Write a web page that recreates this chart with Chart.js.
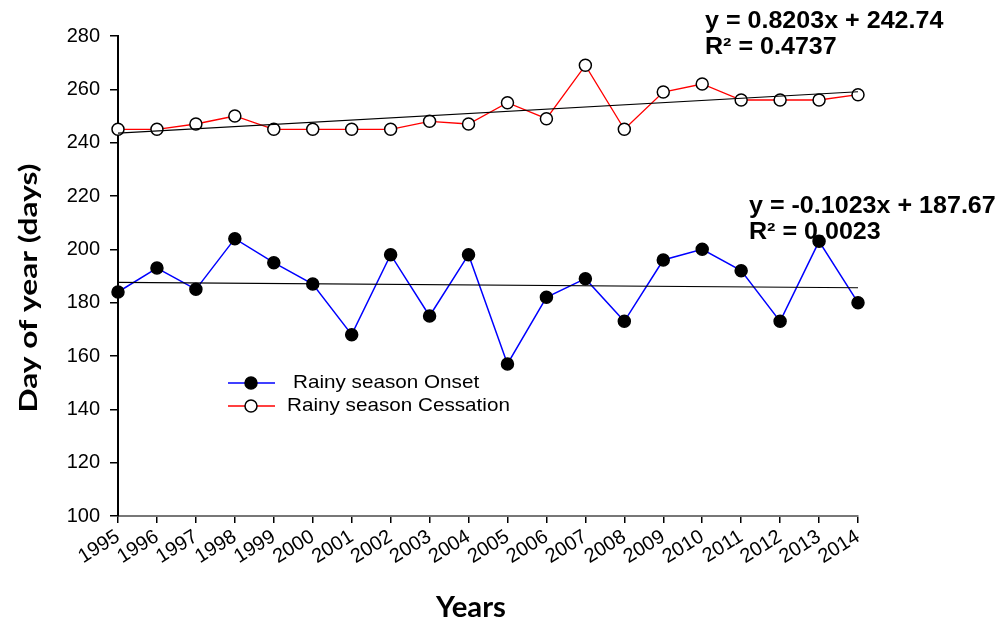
<!DOCTYPE html>
<html lang="en">
<head>
    <meta charset="UTF-8">
    <title>Rainy season onset and cessation</title>
    <script src="https://cdn.jsdelivr.net/npm/chart.js"></script>
    <style>
        html, body { margin: 0; padding: 0; background: #fff; }
        .wrap { width: 1002px; height: 625px; position: relative; }
    </style>
</head>
<body>
    <div class="wrap">
        <canvas id="rainChart" width="1002" height="625"></canvas>
    </div>

    <script>
        const years = ['1995', '1996', '1997', '1998', '1999', '2000', '2001', '2002', '2003', '2004',
                       '2005', '2006', '2007', '2008', '2009', '2010', '2011', '2012', '2013', '2014'];
        const onset = [184, 193, 185, 204, 195, 187, 168, 198, 175, 198,
                       157, 182, 189, 173, 196, 200, 192, 173, 203, 180];
        const cessation = [245, 245, 247, 250, 245, 245, 245, 245, 248, 247,
                           255, 249, 269, 245, 259, 262, 256, 256, 256, 258];
        // trend line end values (first and last year)
        const onsetTrend = [187.6, 185.6];
        const cessationTrend = [243.6, 259.1];
        const yTicks = [100, 120, 140, 160, 180, 200, 220, 240, 260, 280];

        const labelFont = '"Liberation Sans", Arial, sans-serif';
        const titleFont = 'Lato, "Open Sans", sans-serif';

        const trendData = vals => [
            { x: years[0], y: vals[0] },
            { x: years[years.length - 1], y: vals[1] }
        ];

        // text in the original figure is a bit wider than the font, so stretch it
        function stretchText(ctx, text, x, y, sx) {
            ctx.save();
            ctx.translate(x, y);
            ctx.scale(sx, 1);
            ctx.fillText(text, 0, 0);
            ctx.restore();
        }

        function fitText(ctx, text, x, y, width) {
            const sx = width / ctx.measureText(text).width;
            stretchText(ctx, text, x, y, sx);
        }

        // axis titles, legend and equations placed like the original figure
        const extras = {
            id: 'extras',
            afterDraw(chart) {
                const ctx = chart.ctx;
                ctx.save();
                ctx.fillStyle = '#000';
                ctx.textAlign = 'center';
                ctx.textBaseline = 'alphabetic';

                ctx.font = 'bold 28px ' + titleFont;
                fitText(ctx, 'Years', 471, 617, 70);

                ctx.save();
                ctx.translate(37, 288);
                ctx.rotate(-Math.PI / 2);
                ctx.font = 'bold 25px ' + titleFont;
                fitText(ctx, 'Day of year (days)', 0, 0, 249);
                ctx.restore();

                ctx.font = 'bold 23px ' + labelFont;
                ctx.textAlign = 'left';
                stretchText(ctx, 'y = 0.8203x + 242.74', 705, 28, 1.09);
                stretchText(ctx, 'R\u00b2 = 0.4737', 705, 54, 1.09);
                stretchText(ctx, 'y = -0.1023x + 187.67', 749, 213, 1.09);
                stretchText(ctx, 'R\u00b2 = 0.0023', 749, 239, 1.09);

                // legend
                const items = [
                    { ds: chart.data.datasets[0], y: 383, tx: 293 },
                    { ds: chart.data.datasets[1], y: 406, tx: 287 }
                ];
                ctx.font = '19px ' + labelFont;
                ctx.textBaseline = 'middle';
                items.forEach(it => {
                    ctx.strokeStyle = it.ds.borderColor;
                    ctx.lineWidth = 1.3;
                    ctx.beginPath();
                    ctx.moveTo(228, it.y);
                    ctx.lineTo(275, it.y);
                    ctx.stroke();
                    ctx.beginPath();
                    ctx.arc(251, it.y, 6, 0, Math.PI * 2);
                    ctx.fillStyle = it.ds.pointBackgroundColor;
                    ctx.fill();
                    ctx.strokeStyle = '#000';
                    ctx.lineWidth = 1.5;
                    ctx.stroke();
                    ctx.fillStyle = '#000';
                    stretchText(ctx, it.ds.label, it.tx, it.y, 1.088);
                });
                ctx.restore();
            }
        };

        const ctx = document.getElementById('rainChart').getContext('2d');
        new Chart(ctx, {
            type: 'line',
            data: {
                labels: years,
                datasets: [
                    {
                        label: 'Rainy season Onset',
                        data: onset,
                        borderColor: '#0000ff',
                        borderWidth: 1.5,
                        pointBackgroundColor: '#000',
                        pointBorderColor: '#000',
                        pointBorderWidth: 1.5,
                        pointRadius: 6,
                        tension: 0,
                        order: 2
                    },
                    {
                        label: 'Rainy season Cessation',
                        data: cessation,
                        borderColor: '#ff0000',
                        borderWidth: 1.3,
                        pointBackgroundColor: '#fff',
                        pointBorderColor: '#000',
                        pointBorderWidth: 1.5,
                        pointRadius: 6,
                        tension: 0,
                        order: 2
                    },
                    {
                        label: 'Onset trend',
                        data: trendData(onsetTrend),
                        borderColor: '#000',
                        borderWidth: 1.2,
                        pointRadius: 0,
                        order: 1
                    },
                    {
                        label: 'Cessation trend',
                        data: trendData(cessationTrend),
                        borderColor: '#000',
                        borderWidth: 1.2,
                        pointRadius: 0,
                        order: 1
                    }
                ]
            },
            options: {
                responsive: false,
                animation: false,
                layout: { padding: { top: 36, right: 144, left: 0, bottom: 0 } },
                plugins: {
                    legend: { display: false },
                    tooltip: { enabled: false }
                },
                scales: {
                    x: {
                        type: 'category',
                        offset: false,
                        afterFit: s => { s.height = 109; },
                        grid: { drawOnChartArea: false, drawTicks: true, tickLength: 7, color: '#000', lineWidth: 1.5 },
                        border: { color: '#777', width: 2 },
                        ticks: {
                            color: '#000',
                            font: { family: labelFont, size: 20 },
                            minRotation: 32,
                            maxRotation: 32,
                            autoSkip: false,
                            padding: 2
                        }
                    },
                    y: {
                        min: yTicks[0],
                        max: yTicks[yTicks.length - 1],
                        afterFit: s => { s.width = 118; },
                        afterBuildTicks: s => { s.ticks = yTicks.map(v => ({ value: v })); },
                        grid: { drawOnChartArea: false, drawTicks: true, tickLength: 8, color: '#000', lineWidth: 1.5 },
                        border: { color: '#000', width: 2 },
                        ticks: {
                            color: '#000',
                            font: { family: labelFont, size: 20 },
                            padding: 10
                        }
                    }
                }
            },
            plugins: [extras]
        });
    </script>
</body>
</html>
